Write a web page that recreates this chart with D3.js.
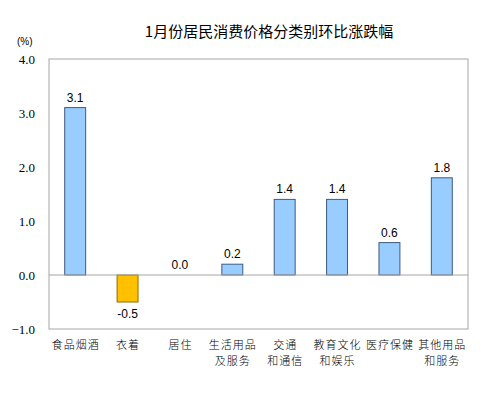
<!DOCTYPE html>
<html>
<head>
<meta charset="utf-8">
<script src="https://cdn.jsdelivr.net/npm/d3@7"></script>
<style>
  body { margin: 0; background: #fff; }
</style>
</head>
<body>
<div id="chart"></div>
<script>
const title = "1月份居民消费价格分类别环比涨跌幅"
const categories = ["食品烟酒", "衣着", "居住", "生活用品\n及服务", "交通\n和通信", "教育文化\n和娱乐", "医疗保健", "其他用品\n和服务"]
const values = [3.1, -0.5, 0.0, 0.2, 1.4, 1.4, 0.6, 1.8]
const yTicks = [-1, 0, 1, 2, 3, 4]

const width = 495, height = 401
const margin = { top: 59, right: 27, bottom: 72, left: 49 }

const svg = d3.select("#chart")
  .append("svg")
  .attr("width", width)
  .attr("height", height)

const x = d3.scaleBand()
  .domain(categories)
  .range([margin.left, width - margin.right])
  .paddingInner(0.6)
  .paddingOuter(0.3)

const y = d3.scaleLinear()
  .domain([-1, 4])
  .range([height - margin.bottom, margin.top])

// title
svg.append("text")
  .attr("x", 269)
  .attr("y", 37)
  .attr("text-anchor", "middle")
  .attr("font-family", "'Noto Sans CJK SC', sans-serif")
  .attr("font-size", 15)
  .attr("fill", "#000")
  .text(title)

// unit
svg.append("text")
  .attr("x", 17)
  .attr("y", 45)
  .attr("font-family", "'Liberation Sans', Arial, sans-serif")
  .attr("font-size", 10)
  .attr("fill", "#000")
  .text("(%)")

// plot frame
svg.append("rect")
  .attr("x", margin.left)
  .attr("y", margin.top)
  .attr("width", width - margin.left - margin.right)
  .attr("height", height - margin.top - margin.bottom)
  .attr("fill", "none")
  .attr("stroke", "#a6a6a6")
  .attr("stroke-width", 1)

// y axis labels
const yAxis = d3.axisLeft(y)
  .tickValues(yTicks)
  .tickFormat(d3.format(".1f"))
  .tickSize(0)
  .tickPadding(14)

const gy = svg.append("g")
  .attr("transform", `translate(${margin.left},0)`)
  .call(yAxis)
gy.select(".domain").remove()
gy.selectAll("text")
  .attr("font-family", "'Liberation Serif', 'Times New Roman', serif")
  .attr("font-size", 13)
  .attr("fill", "#000")

// bars
svg.selectAll("rect.bar")
  .data(values)
  .enter()
    .append("rect")
    .attr("class", "bar")
    .attr("x", (d, i) => x(categories[i]))
    .attr("y", d => y(Math.max(0, d)))
    .attr("width", x.bandwidth())
    .attr("height", d => Math.abs(y(d) - y(0)))
    .attr("fill", d => d < 0 ? "#ffc000" : "#99ccff")
    .attr("stroke", d => d < 0 ? "#8a6d00" : "#3d5a80")
    .attr("stroke-width", 1)

// zero line
svg.append("line")
  .attr("x1", margin.left)
  .attr("x2", width - margin.right)
  .attr("y1", y(0))
  .attr("y2", y(0))
  .attr("stroke", "#a6a6a6")
  .attr("stroke-width", 1)

// value labels
svg.selectAll("text.val")
  .data(values)
  .enter()
    .append("text")
    .attr("class", "val")
    .attr("x", (d, i) => x(categories[i]) + x.bandwidth() / 2)
    .attr("y", d => d < 0 ? y(d) + 16 : y(d) - 6)
    .attr("text-anchor", "middle")
    .attr("font-family", "'Liberation Sans', Arial, sans-serif")
    .attr("font-size", 12)
    .attr("fill", "#000")
    .text(d => d.toFixed(1))

// category labels, one text per line
const cat = svg.selectAll("g.cat")
  .data(categories)
  .enter()
    .append("g")
    .attr("class", "cat")
    .attr("transform", d => `translate(${x(d) + x.bandwidth() / 2},${height - margin.bottom + 20})`)

cat.selectAll("text")
  .data(d => d.split("\n"))
  .enter()
    .append("text")
    .attr("x", 0.5)
    .attr("y", (d, i) => i * 16)
    .attr("text-anchor", "middle")
    .attr("font-family", "'Noto Sans CJK SC', sans-serif")
    .attr("font-weight", 300)
    .attr("font-size", 11)
    .attr("letter-spacing", 1)
    .attr("fill", "#000")
    .text(d => d)
</script>
</body>
</html>
